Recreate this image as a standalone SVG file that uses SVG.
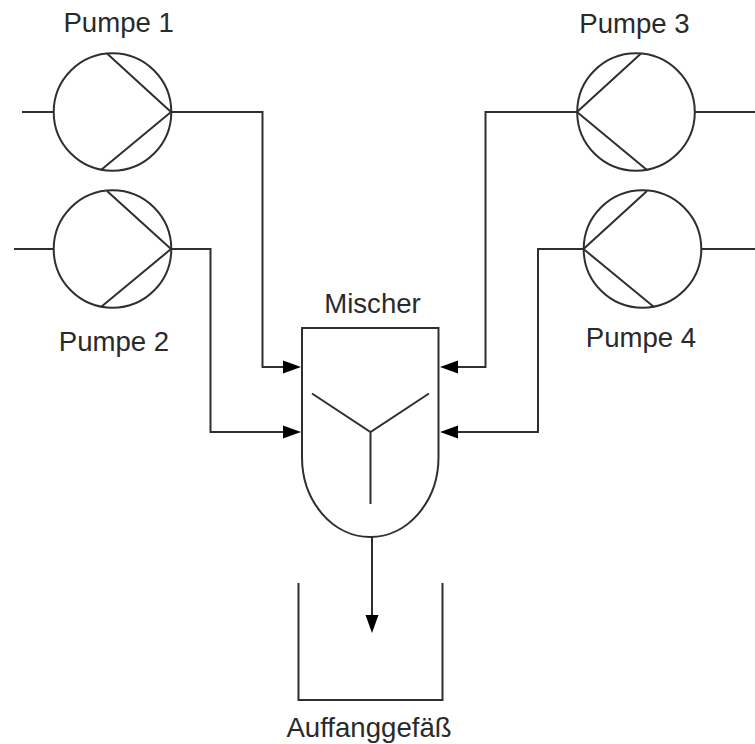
<svg xmlns="http://www.w3.org/2000/svg" width="755" height="744" viewBox="0 0 755 744">
<style>
.l{fill:none;stroke:#2f2f2f;stroke-width:2}
.t{font-family:"Liberation Sans",Arial,sans-serif;font-size:27.600px;fill:#2a2a2a;text-anchor:middle}
.a{fill:#000}
</style>
<defs>
<marker id="h" markerUnits="userSpaceOnUse" markerWidth="18" markerHeight="14" refX="5" refY="7" orient="auto"><path class="a" d="M0 0.500L18 7L0 13.500Z"/></marker>
</defs>
<rect width="755" height="744" fill="#fff"/>
<g id="connectors">
<path class="l" d="M22 112H53.500"/>
<path class="l" d="M14 249H53.500"/>
<path class="l" d="M171 112H262.500V367H288" marker-end="url(#h)"/>
<path class="l" d="M171 249H210.500V432H288" marker-end="url(#h)"/>
<path class="l" d="M695 112H755"/>
<path class="l" d="M701.500 249H755"/>
<path class="l" d="M577 112H485.500V367H453" marker-end="url(#h)"/>
<path class="l" d="M583.500 249H538V432H453" marker-end="url(#h)"/>
<path class="l" d="M372 537V620" marker-end="url(#h)"/>
</g>
<g id="pumpe1"><circle class="l" cx="112.500" cy="112" r="58.800"/><path class="l" d="M107 53.500L171 112L101 170"/><text class="t" x="118.700" y="32">Pumpe 1</text></g>
<g id="pumpe2"><circle class="l" cx="112.500" cy="249" r="58.800"/><path class="l" d="M107 191L171 249L101 307"/><text class="t" x="114" y="351">Pumpe 2</text></g>
<g id="pumpe3"><circle class="l" cx="636" cy="112" r="58.800"/><path class="l" d="M641 53.500L577 112L647 170"/><text class="t" x="634.500" y="33">Pumpe 3</text></g>
<g id="pumpe4"><circle class="l" cx="642.500" cy="249" r="58.800"/><path class="l" d="M647 191L583.500 249L654 307"/><text class="t" x="641" y="347">Pumpe 4</text></g>
<g id="mischer"><path class="l" d="M302 457V328H438.500V457A68.250 80 0 0 1 302 457Z"/><path class="l" d="M312 393.500L370.500 432L429 393.500M370.500 432V504"/><text class="t" x="372.500" y="313">Mischer</text></g>
<g id="auffanggefaess"><path class="l" d="M298.500 583V700H442.500V583"/><text class="t" x="369" y="737">Auffanggefäß</text></g>
</svg>
